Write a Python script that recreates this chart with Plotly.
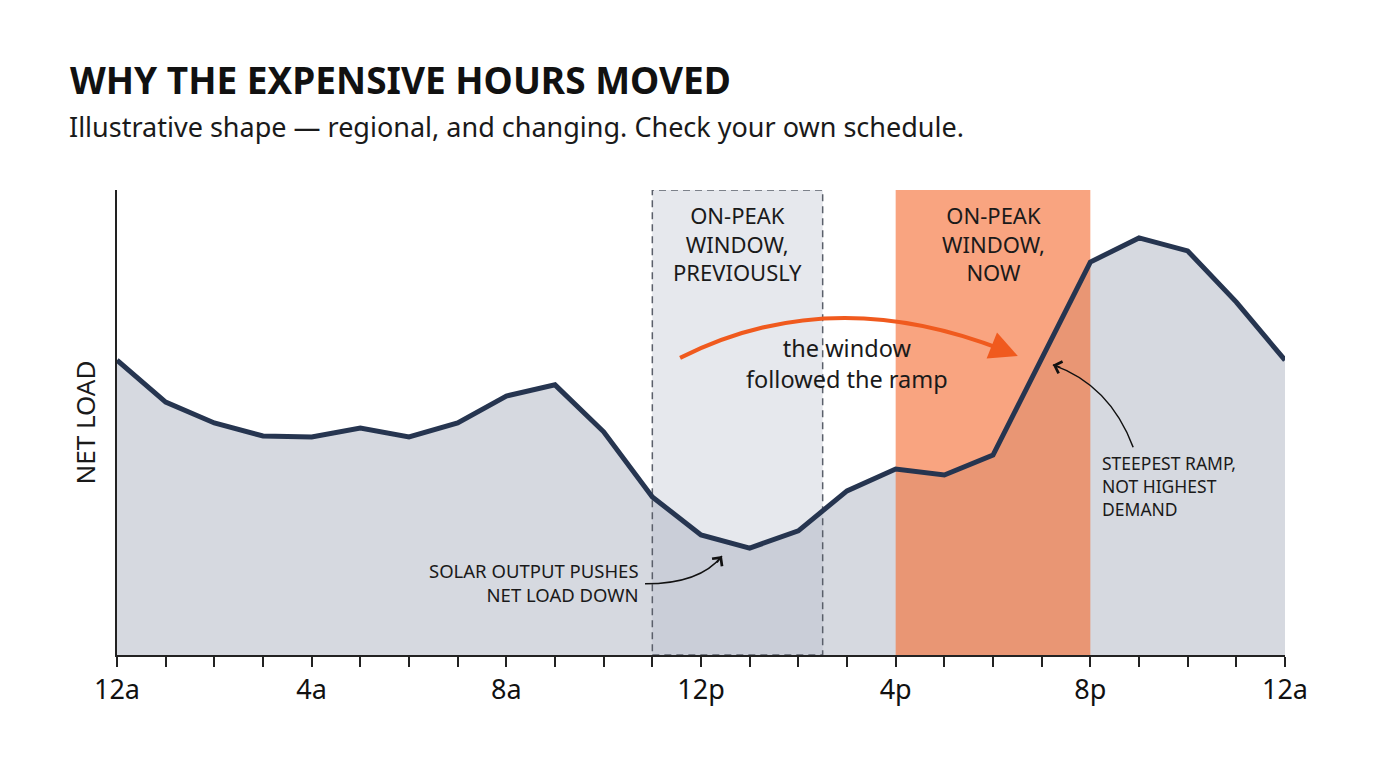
import plotly.graph_objects as go

# hour of day -> net load (arbitrary units, 0-100)
HOURS = list(range(25))
NET_LOAD = [63.4, 54.4, 49.9, 47.1, 46.9, 48.8, 46.9, 49.9, 55.7, 58.1,
            48.0, 34.0, 25.8, 23.0, 26.7, 35.3, 40.0, 38.7, 43.0, 63.9,
            84.5, 89.7, 86.9, 75.9, 63.4]
TICK_TEXT = {0: "12a", 4: "4a", 8: "8a", 12: "12p", 16: "4p", 20: "8p", 24: "12a"}

# on-peak windows (start hour, end hour)
PREV_WINDOW = (11, 14.5)
NOW_WINDOW = (16, 20)
Y_MAX = 100

FONT = "Noto Sans"
NAVY = "#263550"
ORANGE = "#F05A1E"


def window_box(win):
    x0, x1 = win
    return [x0, x1, x1, x0, x0], [0, 0, Y_MAX, Y_MAX, 0]


fig = go.Figure()

# area under the curve
fig.add_trace(go.Scatter(x=HOURS, y=NET_LOAD, fill="tozeroy", mode="lines",
                         fillcolor="#D6D9E0", line=dict(width=0), hoverinfo="skip"))

# old window, dashed box
bx, by = window_box(PREV_WINDOW)
fig.add_trace(go.Scatter(x=bx, y=by, fill="toself", mode="lines",
                         fillcolor="rgba(178,184,200,0.33)",
                         line=dict(color="#5a5f6a", width=1.5, dash="7px,5px"),
                         hoverinfo="skip"))

# current window, orange
bx, by = window_box(NOW_WINDOW)
fig.add_trace(go.Scatter(x=bx, y=by, fill="toself", mode="lines",
                         fillcolor="rgba(246,108,50,0.62)", line=dict(width=0),
                         hoverinfo="skip"))

# the net load line on top
fig.add_trace(go.Scatter(x=HOURS, y=NET_LOAD, mode="lines",
                         line=dict(color=NAVY, width=5), hoverinfo="skip"))

# curved arrows (quadratic paths in data coords), heads added as annotations
curves = [
    # start, control, end, colour, width
    ((11.57, 63.9), (14.65, 80.2), (18.21, 65.6), ORANGE, 4),
    ((10.85, 15.3), (11.98, 15.3), (12.43, 21.3), "#111", 1.5),
    ((20.88, 44.7), (20.40, 58.1), (19.23, 62.4), "#111", 1.5),
]
for (sx, sy), (cx, cy), (ex, ey), col, w in curves:
    fig.add_shape(type="path", xref="x", yref="y",
                  path=f"M {sx},{sy} Q {cx},{cy} {ex},{ey}",
                  line=dict(color=col, width=w))

heads = [
    # tip x, tip y, tail offset px, head style, colour, width, size
    (18.51, 64.3, -15, -6, 2, ORANGE, 4, 1.4),
    (12.43, 21.3, -6, 8, 4, "#111", 1.5, 1.6),
    (19.23, 62.4, 9, 3, 4, "#111", 1.5, 1.6),
]
for x, y, ax, ay, head, col, w, size in heads:
    fig.add_annotation(x=x, y=y, ax=ax, ay=ay, text="", showarrow=True,
                       arrowhead=head, arrowcolor=col, arrowwidth=w, arrowsize=size)

labels = [
    (sum(PREV_WINDOW) / 2, 88.6, "ON-PEAK<br>WINDOW,<br>PREVIOUSLY", 22, "center"),
    (sum(NOW_WINDOW) / 2, 88.6, "ON-PEAK<br>WINDOW,<br>NOW", 22, "center"),
    (15.0, 62.6, "the window<br>followed the ramp", 23.5, "center"),
    (10.77, 15.5, "SOLAR OUTPUT PUSHES<br>NET LOAD DOWN", 18.5, "right"),
    (20.2, 36.3, "STEEPEST RAMP,<br>NOT HIGHEST<br>DEMAND", 17.5, "left"),
]
for x, y, txt, size, anchor in labels:
    fig.add_annotation(x=x, y=y, text=txt, showarrow=False, xanchor=anchor,
                       yanchor="middle", align=anchor,
                       font=dict(family=FONT, size=size, color="#1a1a1a"))

# subtitle + y label
fig.add_annotation(xref="paper", yref="paper", x=-0.0425, y=1.1376, xanchor="left",
                   yanchor="middle", showarrow=False,
                   text="Illustrative shape \u2014 regional, and changing. Check your own schedule.",
                   font=dict(family=FONT, size=27, color="#1a1a1a"))
fig.add_annotation(xref="paper", yref="paper", x=-0.0274, y=0.5, textangle=-90,
                   xanchor="center", yanchor="middle",
                   showarrow=False, text="NET LOAD",
                   font=dict(family=FONT, size=26, color="#1a1a1a"))

fig.update_layout(
    width=1376, height=768,
    margin=dict(l=109, r=99, t=182, b=121),
    paper_bgcolor="white", plot_bgcolor="white",
    showlegend=False,
    title=dict(text="<b>WHY THE EXPENSIVE HOURS MOVED</b>", xref="container", x=62 / 1376,
               xanchor="left", yref="container", y=1 - 73 / 768, yanchor="middle",
               font=dict(family=FONT, size=37, color="#111")),
    xaxis=dict(range=[0, 24], showgrid=False, zeroline=False, showline=True,
               linecolor="#222", linewidth=2, ticks="outside", ticklen=10,
               tickwidth=1.5, tickcolor="#222", tickvals=HOURS,
               ticktext=[TICK_TEXT.get(h, "") for h in HOURS],
               tickfont=dict(family=FONT, size=27, color="#111")),
    yaxis=dict(range=[0, Y_MAX], showgrid=False, zeroline=False, showline=True,
               linecolor="#222", linewidth=2, showticklabels=False, ticks=""),
)

fig.write_html("out.html")
